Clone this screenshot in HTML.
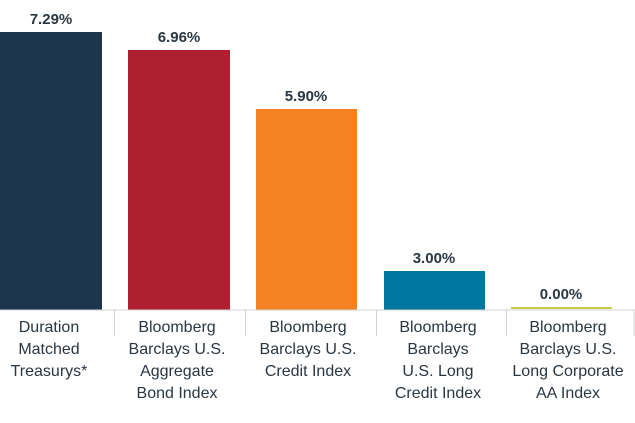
<!DOCTYPE html>
<html><head><style>
body{margin:0;background:#fff;}
svg text{font-family:"Liberation Sans",sans-serif;}
</style></head><body>
<svg width="635" height="418" xmlns="http://www.w3.org/2000/svg">
<rect x="0" y="32" width="102" height="278" fill="#1e364d"/>
<rect x="128" y="50" width="102" height="260" fill="#ae2030"/>
<rect x="256" y="109" width="101" height="201" fill="#f58222"/>
<rect x="384" y="271" width="101" height="39" fill="#0077a0"/>
<rect x="511" y="307" width="101" height="2" fill="#c4cc4a"/>
<line x1="0" y1="310" x2="635" y2="310" stroke="#d0d0d0" stroke-width="1"/>
<g stroke="#d0d0d0"><line x1="114.5" y1="310" x2="114.5" y2="336"/><line x1="245.5" y1="310" x2="245.5" y2="336"/><line x1="376.5" y1="310" x2="376.5" y2="336"/><line x1="506.5" y1="310" x2="506.5" y2="336"/><line x1="634" y1="310" x2="634" y2="336"/></g>
<g font-size="15" font-weight="bold" fill="#2a3642" text-anchor="middle">
<text x="51" y="24">7.29%</text><text x="179" y="42">6.96%</text><text x="306" y="101">5.90%</text><text x="434" y="263">3.00%</text><text x="561" y="299">0.00%</text>
</g>
<g font-size="16" fill="#2a3642" text-anchor="middle">
<text x="49" y="332">Duration</text><text x="49" y="354">Matched</text><text x="49" y="376">Treasurys*</text>
<text x="177" y="332">Bloomberg</text><text x="177" y="354">Barclays U.S.</text><text x="177" y="376">Aggregate</text><text x="177" y="398">Bond Index</text>
<text x="308" y="332">Bloomberg</text><text x="308" y="354">Barclays U.S.</text><text x="308" y="376">Credit Index</text>
<text x="438" y="332">Bloomberg</text><text x="438" y="354">Barclays</text><text x="438" y="376">U.S. Long</text><text x="438" y="398">Credit Index</text>
<text x="568" y="332">Bloomberg</text><text x="568" y="354">Barclays U.S.</text><text x="568" y="376">Long Corporate</text><text x="568" y="398">AA Index</text>
</g>
</svg>
</body></html>
